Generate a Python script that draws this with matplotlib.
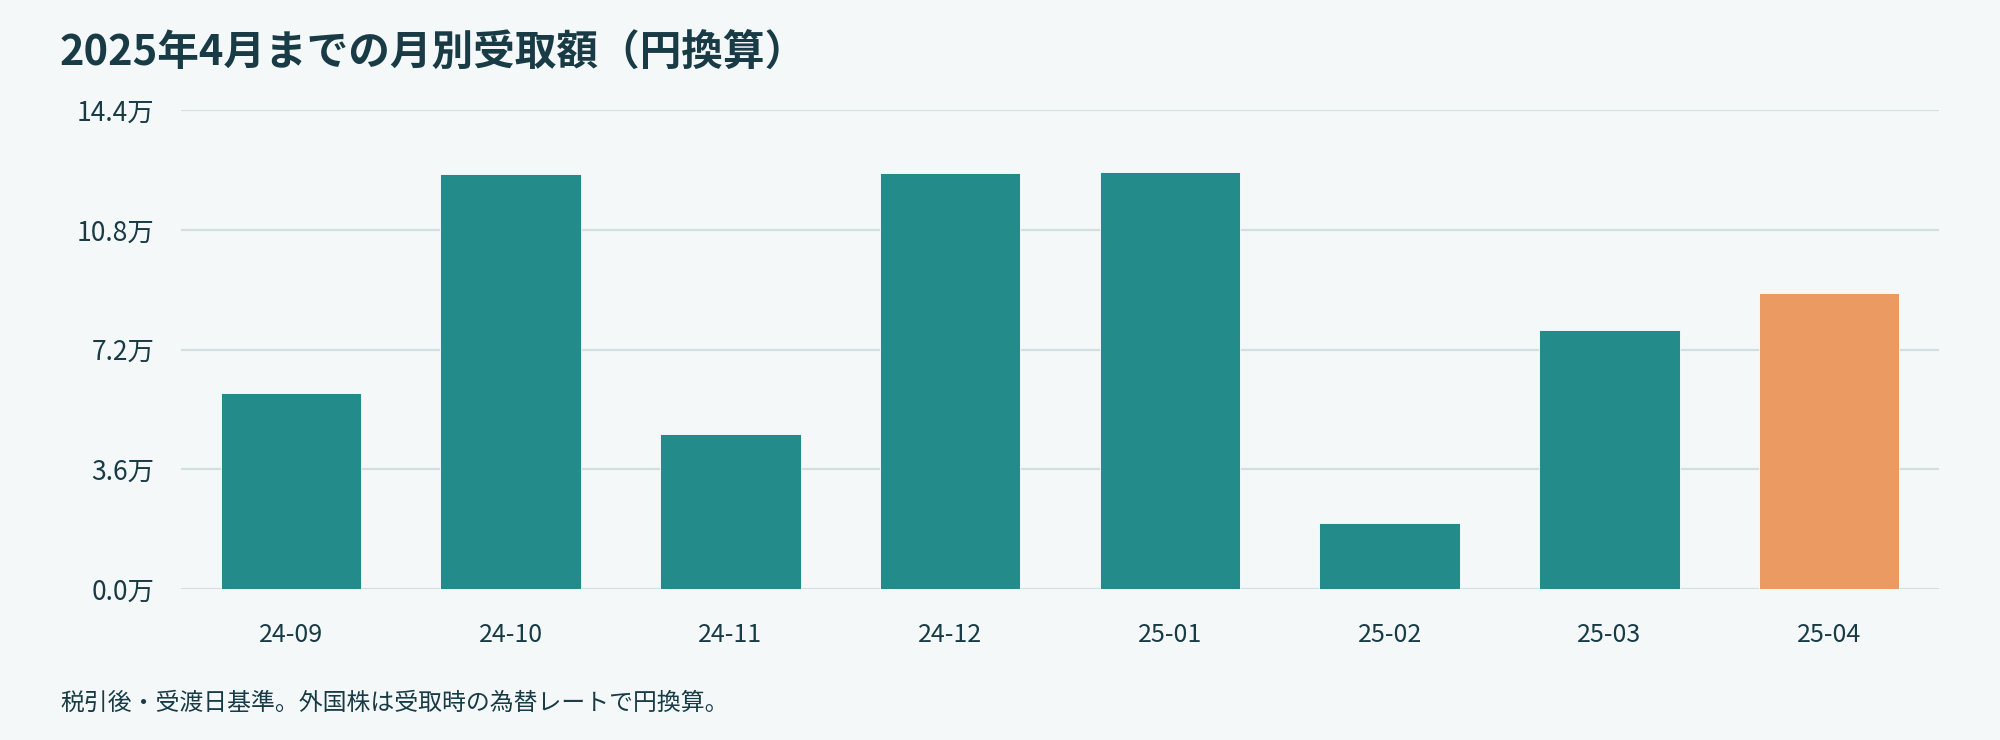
import numpy as np
import matplotlib
matplotlib.use('Agg')
import matplotlib.pyplot as plt

plt.rcParams['font.family'] = ['Noto Sans CJK JP', 'DejaVu Sans']

# monthly amounts (万円)
months = ['24-09', '24-10', '24-11', '24-12', '25-01', '25-02', '25-03', '25-04']
amounts = [5.90, 12.47, 4.65, 12.52, 12.54, 1.98, 7.78, 8.91]
y_ticks = [0.0, 3.6, 7.2, 10.8, 14.4]
y_labels = ['%.1f万' % v for v in y_ticks]

title = '2025年4月までの月別受取額（円換算）'
note = '税引後・受渡日基準。外国株は受取時の為替レートで円換算。'

bg = '#f4f8f9'
teal = '#238b89'
orange = '#eb9a62'
text_dark = '#183b46'
grid_c = '#d2dfe2'

fig = plt.figure(figsize=(20, 7.4), dpi=100, facecolor=bg)
ax = fig.add_axes([0.0905, 0.204, 0.879, 0.647])
ax.set_facecolor(bg)

x = np.arange(len(months))
colors = [teal] * (len(months) - 1) + [orange]
ax.bar(x, amounts, width=0.64, color=colors, edgecolor='#ffffff', linewidth=0.6, zorder=3)

ax.set_xlim(-0.5, len(months) - 0.5)
ax.set_ylim(0, 14.4)
ax.set_yticks(y_ticks)
ax.set_yticklabels(y_labels)
ax.set_xticks(x)
ax.set_xticklabels(months)

ax.grid(axis='y', color=grid_c, linewidth=1.6, zorder=0)
ax.grid(axis='x', visible=False)
for s in ax.spines.values():
    s.set_visible(False)
ax.tick_params(axis='both', length=0, labelsize=18, labelcolor=text_dark)
ax.tick_params(axis='y', labelsize=19, pad=19)
ax.tick_params(axis='x', pad=24)

fig.text(0.03, 0.929, title, fontsize=30, fontweight='bold', color=text_dark,
         ha='left', va='center')
fig.text(0.03, 0.05, note, fontsize=17.2, color=text_dark, ha='left', va='center')

fig.savefig('out.png', dpi=100, facecolor=bg)
